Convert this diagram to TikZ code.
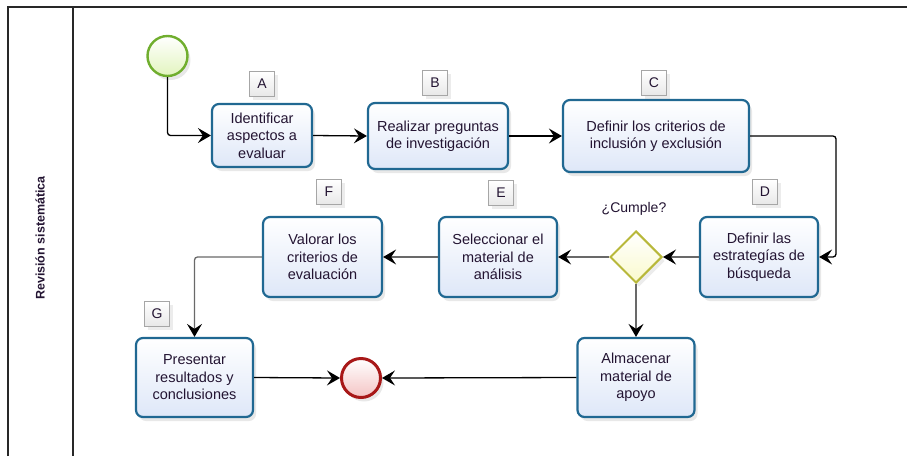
\documentclass[tikz,border=0pt]{standalone}
\usepackage{fontspec}
\setmainfont{Liberation Sans}
\usetikzlibrary{arrows.meta,shapes.geometric,shadows,calc}
\definecolor{boxborder}{RGB}{32,104,146}
\definecolor{boxfill}{RGB}{222,231,248}
\definecolor{txt}{RGB}{35,20,50}
\definecolor{startborder}{RGB}{112,174,46}
\definecolor{startfill}{RGB}{226,244,190}
\definecolor{endborder}{RGB}{168,24,24}
\definecolor{endfill}{RGB}{244,196,196}
\definecolor{diaborder}{RGB}{184,184,58}
\definecolor{diafill}{RGB}{250,250,205}
\definecolor{linegray}{RGB}{105,105,105}
\definecolor{framecol}{RGB}{40,40,40}
\tikzset{
  task/.style={draw=boxborder, line width=2.2pt, rounded corners=7pt,
    top color=white, bottom color=boxfill, text=txt, align=center,
    font=\fontsize{14.5}{17.5}\selectfont, inner sep=2pt,
    drop shadow={opacity=0.18, shadow xshift=3pt, shadow yshift=-4pt}},
  tag/.style={draw=gray!70, line width=0.6pt, minimum size=25pt, inner sep=0pt,
    top color=white, bottom color=gray!18, text=txt,
    font=\fontsize{14}{15}\selectfont,
    drop shadow={opacity=0.15, shadow xshift=3pt, shadow yshift=-3pt}},
  startev/.style={circle, draw=startborder, line width=2.4pt, minimum size=40pt,
    inner sep=0pt, top color=white, bottom color=startfill,
    drop shadow={opacity=0.18, shadow xshift=3pt, shadow yshift=-4pt}},
  endev/.style={circle, draw=endborder, line width=3pt, minimum size=39pt,
    inner sep=0pt, top color=white, bottom color=endfill,
    drop shadow={opacity=0.18, shadow xshift=3pt, shadow yshift=-4pt}},
  gate/.style={diamond, draw=diaborder, line width=2pt, minimum size=52pt,
    inner sep=0pt, top color=white, bottom color=diafill, aspect=1,
    drop shadow={opacity=0.15, shadow xshift=3pt, shadow yshift=-4pt}},
  flow/.style={line width=1.3pt, rounded corners=3pt,
    -{Stealth[length=13pt,width=15pt,inset=5pt,color=black]}},
  flowg/.style={flow, draw=linegray},
}
\begin{document}
\begin{tikzpicture}[x=1pt,y=-1pt]
\useasboundingbox (0,0) rectangle (907,456);
% pool frame
\draw[framecol, line width=1.2pt] (8,456) -- (8,7) -- (907,7);
\draw[framecol, line width=1.2pt] (73,7) -- (73,456);
\node[rotate=90, font=\bfseries\fontsize{12.5}{14}\selectfont, text=txt] (lane) at (40,238) {Revisión sistemática};

% events and gateway
\node[startev] (start) at (167.5,56) {};
\node[endev] (end) at (361,378) {};
\node[gate] (dia) at (636,257) {};
\node[text=txt, font=\fontsize{14}{16}\selectfont] (cumple) at (634,209) {¿Cumple?};

% tasks
\node[task, minimum width=100pt, minimum height=63pt] (A) at (262,135.5) {Identificar\\aspectos a\\evaluar};
\node[task, minimum width=140pt, minimum height=66pt] (B) at (438,136) {Realizar preguntas\\de investigación};
\node[task, minimum width=186pt, minimum height=72pt] (C) at (656,136) {Definir los criterios de\\inclusión y exclusión};
\node[task, minimum width=118pt, minimum height=80pt] (D) at (759,257) {Definir las\\estrategías de\\búsqueda};
\node[task, minimum width=118pt, minimum height=80pt] (E) at (498,257) {Seleccionar el\\material de\\análisis};
\node[task, minimum width=119pt, minimum height=80pt] (F) at (322.5,257) {Valorar los\\criterios de\\evaluación};
\node[task, minimum width=117pt, minimum height=79pt] (G) at (194.5,377.5) {Presentar\\resultados y\\conclusiones};
\node[task, minimum width=117pt, minimum height=79pt] (H) at (636,377.5) {Almacenar\\material de\\apoyo};

% tags
\node[tag] (tA) at (262,84) {A};
\node[tag] (tB) at (435,83) {B};
\node[tag] (tC) at (654,83) {C};
\node[tag] (tD) at (765,192) {D};
\node[tag] (tE) at (501,193) {E};
\node[tag] (tF) at (329,192) {F};
\node[tag] (tG) at (157,314) {G};

% connectors
\coordinate (cd) at (836,136);
\draw[flow] (start.south) |- (A.west);
\draw[flow] (A.east) -- (B.west);
\draw[flow] (B.east) -- (C.west);
\draw[flow] (C.east) -- (cd) |- (D.east);
\draw[flowg] (D.west) -- (dia.east);
\draw[flowg] (dia.west) -- (E.east);
\draw[flowg] (E.west) -- (F.east);
\draw[flowg] (F.west) -| (G.north);
\draw[flowg] (dia.south) -- (H.north);
\draw[flow] (G.east) -- (end.west);
\draw[flow] (H.west) -- (end.east);
\end{tikzpicture}
\end{document}
